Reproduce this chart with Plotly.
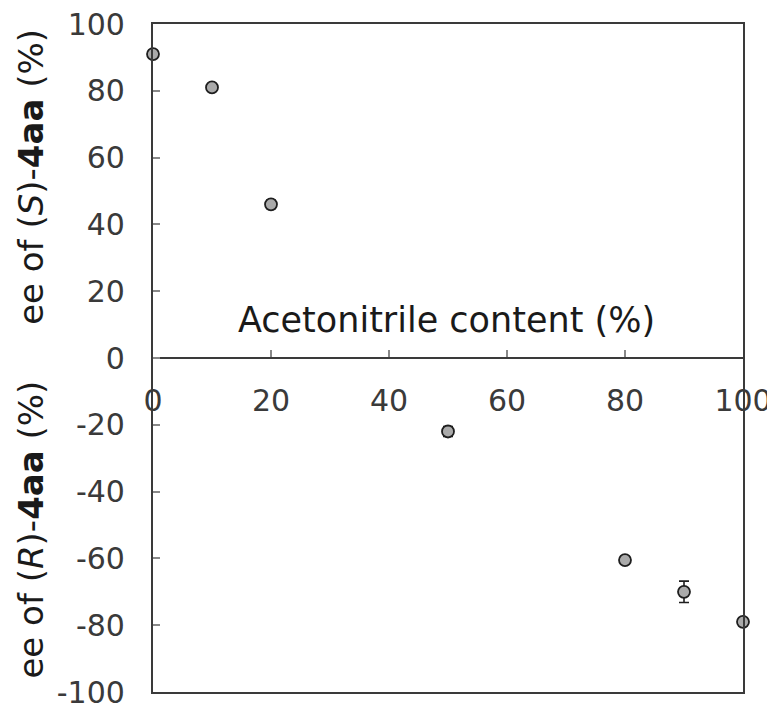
import plotly.graph_objects as go

acetonitrile = [0, 10, 20, 50, 80, 90, 100]
ee_values = [91, 81, 46, -22, -60.5, -70, -79]
ee_errors = [1, 1, 1.2, 1.5, 1, 3.2, 1]

x_ticks = [0, 20, 40, 60, 80, 100]
y_ticks = [100, 80, 60, 40, 20, 0, -20, -40, -60, -80, -100]

font_family = "DejaVu Sans, Liberation Sans, Arial, sans-serif"
text_col = "#3a3a3a"
axis_col = "#3a3a3a"

fig = go.Figure()
fig.add_trace(go.Scatter(
    x=acetonitrile, y=ee_values,
    mode="markers",
    marker=dict(symbol="circle", size=12, color="#aaaaaa",
                line=dict(color="#1e1e1e", width=1.8)),
    error_y=dict(type="data", array=ee_errors, visible=True,
                 color="#1e1e1e", thickness=1.6, width=5),
    cliponaxis=False,
    showlegend=False,
))
fig.add_trace(go.Scatter(x=[None], y=[None], xaxis="x2", showlegend=False))

fig.update_layout(
    width=775, height=708,
    margin=dict(l=145, r=40, t=16, b=24, autoexpand=False),
    paper_bgcolor="white", plot_bgcolor="white",
    font=dict(family=font_family, size=30, color=text_col),
    xaxis=dict(range=[0, 100], showline=True, linecolor=axis_col, linewidth=2.2,
               mirror=True, showticklabels=False, ticks="", showgrid=False,
               zeroline=False, automargin=False),
    xaxis2=dict(range=[0, 100], overlaying="x", anchor="free", position=0.5,
                side="bottom", showline=True, linecolor=axis_col, linewidth=2,
                ticks="inside", ticklen=7, tickwidth=1.5, tickcolor="#888888",
                tickvals=x_ticks, ticktext=[str(v) for v in x_ticks],
                ticklabelstandoff=16, showgrid=False, zeroline=False,
                automargin=False, ticklabeloverflow="allow",
                tickfont=dict(size=30, color=text_col)),
    yaxis=dict(range=[-100, 100], showline=True, linecolor=axis_col, linewidth=2.2,
               mirror=True, ticks="inside", ticklen=7, tickwidth=1.5,
               tickcolor="#888888",
               tickvals=y_ticks, ticktext=[str(v) for v in y_ticks],
               ticklabelstandoff=20, showgrid=False, zeroline=False,
               automargin=False, ticklabeloverflow="allow",
               tickfont=dict(size=30, color=text_col)),
)

fig.add_annotation(
    text="Acetonitrile content (%)", xref="paper", yref="paper",
    x=0.498, y=0.557, xanchor="center", yanchor="middle", showarrow=False,
    font=dict(size=35, color="#1a1a1a"),
)
fig.add_annotation(
    text="ee of (<i>S</i>)-<b>4aa</b> (%)", xref="paper", yref="paper",
    x=-0.207, y=0.771, xanchor="center", yanchor="middle", textangle=-90,
    showarrow=False, font=dict(size=34, color="#1a1a1a"),
)
fig.add_annotation(
    text="ee of (<i>R</i>)-<b>4aa</b> (%)", xref="paper", yref="paper",
    x=-0.207, y=0.243, xanchor="center", yanchor="middle", textangle=-90,
    showarrow=False, font=dict(size=34, color="#1a1a1a"),
)

fig.write_html("out.html")
